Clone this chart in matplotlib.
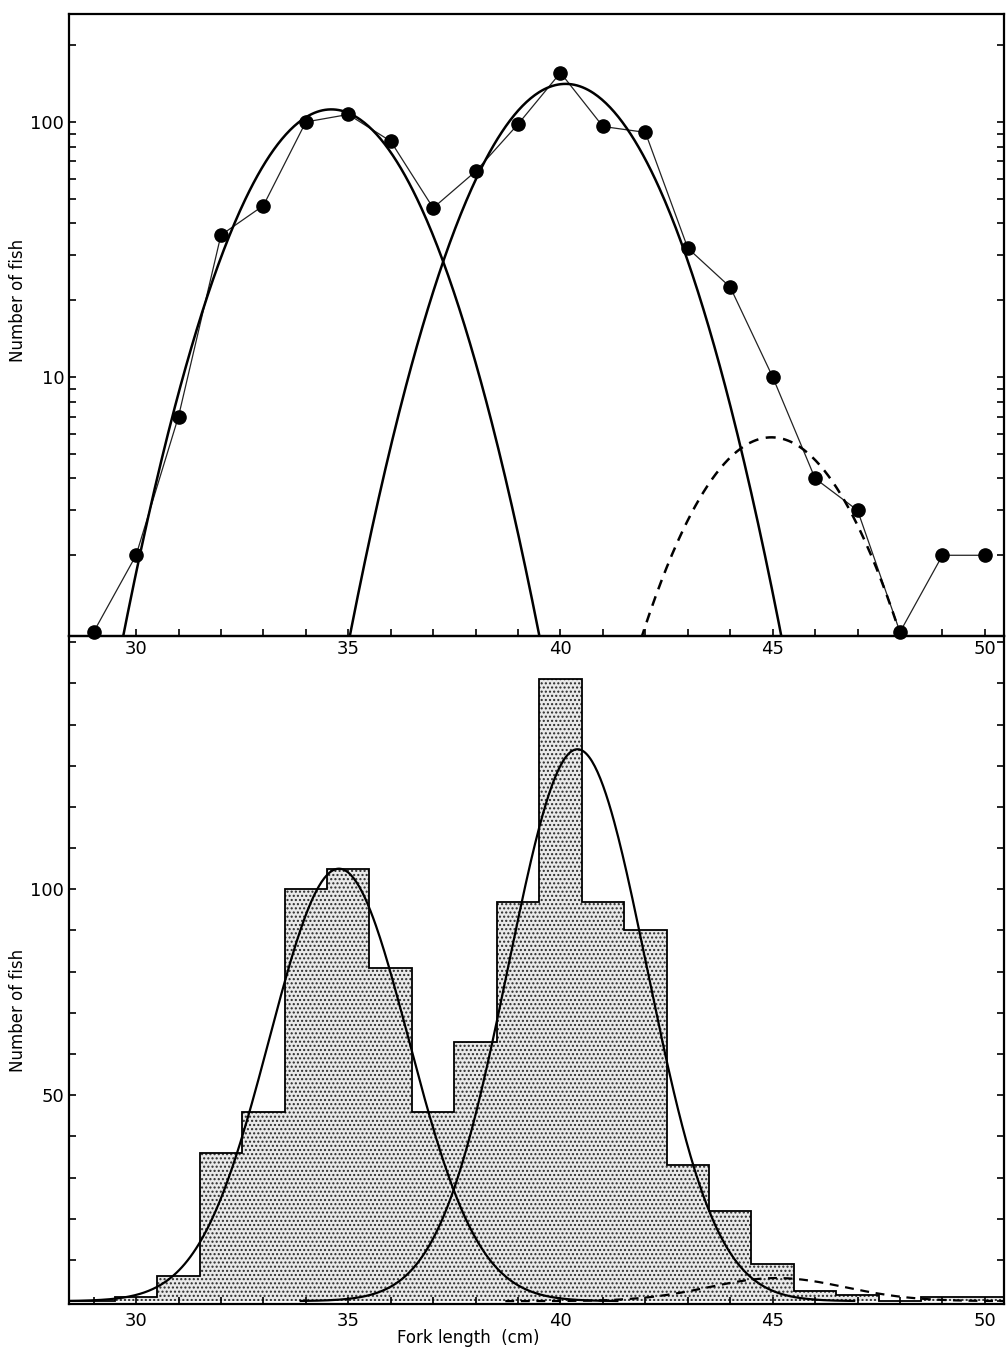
import matplotlib
matplotlib.use('Agg')
import matplotlib.pyplot as plt
import numpy as np
from matplotlib.ticker import FixedLocator, FixedFormatter, MultipleLocator, NullFormatter, LogLocator

# Fork length classes (cm)
lengths = np.arange(29, 51)

# Upper panel: plotted frequencies (log scale)
top_counts = [1, 2, 7, 36, 47, 100, 107, 84, 46, 64, 98, 156,
              96, 91, 32, 22.5, 10, 4, 3, 1, 2, 2]

# Lower panel: histogram counts
hist_counts = [0, 1, 6, 36, 46, 100, 105, 81, 46, 63, 97, 151,
               97, 90, 33, 22, 9, 2.5, 1.5, 0, 1, 1]

# Fitted normal components: mean, peak height, sd
top_means = [34.6, 40.12, 44.97]
top_peaks = [112, 141, 5.8]
top_sds = [1.59, 1.61, 1.61]

bot_means = [34.78, 40.4, 45.1]
bot_peaks = [105, 134, 5.6]
bot_sds = [1.64, 1.63, 1.6]

styles = ['-', '-', '--']

plt.rcParams['font.family'] = ['DejaVu Sans']
plt.rcParams['hatch.color'] = '#3a3a3a'
plt.rcParams['hatch.linewidth'] = 1.0

fig = plt.figure(figsize=(10.06, 13.54), dpi=100)
left, width = 69 / 1006, (1004 - 69) / 1006
ax2 = fig.add_axes([left, 1 - 1304 / 1354, width, (1304 - 636) / 1354])
ax1 = fig.add_axes([left, 1 - 636 / 1354, width, (636 - 14) / 1354])
ax1.set_zorder(3)
ax1.patch.set_alpha(0)

xlim = (28.42, 50.45)

# ---- upper panel (log) ----
ax1.set_yscale('log')
ax1.plot(lengths, top_counts, color='#222222', linewidth=0.9, zorder=2)
ax1.plot(lengths, top_counts, 'o', color='black', markersize=9.5, zorder=3,
         clip_on=False)
for m, a, s, ls in zip(top_means, top_peaks, top_sds, styles):
    xs = np.linspace(m - 4 * s, m + 4 * s, 400)
    ax1.plot(xs, a * np.exp(-(xs - m) ** 2 / (2 * s ** 2)), color='black',
             linewidth=1.8, linestyle=ls, dashes=(4, 3) if ls == '--' else (None, None),
             zorder=2)
ax1.set_xlim(*xlim)
ax1.set_ylim(0.965, 265)
ax1.yaxis.set_major_locator(FixedLocator([10, 100]))
ax1.yaxis.set_major_formatter(FixedFormatter(['10', '100']))
ax1.yaxis.set_minor_locator(LogLocator(base=10, subs=np.arange(2, 10)))
ax1.yaxis.set_minor_formatter(NullFormatter())
ax1.xaxis.set_major_locator(MultipleLocator(5))
ax1.xaxis.set_minor_locator(MultipleLocator(1))
ax1.tick_params(axis='both', which='both', direction='in', length=5, width=1.2,
                labelsize=13)
ax1.tick_params(axis='y', which='both', right=True)
ax1.tick_params(axis='x', which='both', top=False, pad=3)

# ---- lower panel (histogram) ----
edges = np.append(lengths - 0.5, lengths[-1] + 0.5)
ax2.stairs(hist_counts, edges, baseline=0, fill=True, facecolor='#e9e9e9',
           edgecolor='#2a2a2a', hatch='....', linewidth=0, zorder=1)
ax2.stairs(hist_counts, edges, baseline=0, fill=False, color='black',
           linewidth=1.3, zorder=2)
for m, a, s, ls in zip(bot_means, bot_peaks, bot_sds, styles):
    xs = np.linspace(m - 4 * s, m + 4 * s, 400)
    ax2.plot(xs, a * np.exp(-(xs - m) ** 2 / (2 * s ** 2)), color='black',
             linewidth=1.6, linestyle=ls, dashes=(4, 3) if ls == '--' else (None, None),
             zorder=3)
ax2.set_xlim(*xlim)
ax2.set_ylim(-0.7, 161.5)
ax2.yaxis.set_major_locator(FixedLocator([50, 100]))
ax2.yaxis.set_minor_locator(MultipleLocator(10))
ax2.xaxis.set_major_locator(MultipleLocator(5))
ax2.xaxis.set_minor_locator(MultipleLocator(1))
ax2.tick_params(axis='both', which='both', direction='in', length=5, width=1.2,
                labelsize=13)
ax2.tick_params(axis='y', which='both', right=True)
ax2.tick_params(axis='x', which='both', top=False, pad=6)

for ax in (ax1, ax2):
    for sp in ax.spines.values():
        sp.set_linewidth(1.6)

# Labels
fig.text(0.018, 1 - 300 / 1354, 'Number of fish', rotation=90, ha='center',
         va='center', fontsize=12)
fig.text(0.018, 1 - 1010 / 1354, 'Number of fish', rotation=90, ha='center',
         va='center', fontsize=12)
fig.text(468 / 1006, 1 - 1338 / 1354, 'Fork length  (cm)', ha='center',
         va='center', fontsize=12)

fig.savefig('out.png', dpi=100)
